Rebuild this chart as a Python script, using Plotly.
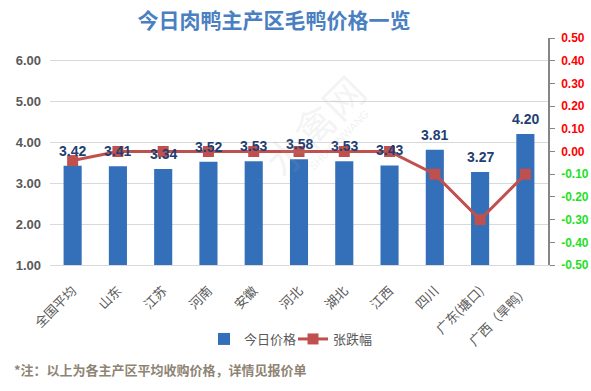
import plotly.graph_objects as go

categories = ["全国平均", "山东", "江苏", "河南", "安徽", "河北", "湖北", "江西", "四川", "广东(塘口)", "广西（旱鸭）"]
prices = [3.42, 3.41, 3.34, 3.52, 3.53, 3.58, 3.53, 3.43, 3.81, 3.27, 4.20]
changes = [-0.04, 0.00, 0.00, 0.00, 0.00, 0.00, 0.00, 0.00, -0.10, -0.30, -0.10]

left_ticks = [1, 2, 3, 4, 5, 6]
left_ticktext = ["1.00", "2.00", "3.00", "4.00", "5.00", "6.00"]
right_ticks = [-0.5, -0.4, -0.3, -0.2, -0.1, 0.0, 0.1, 0.2, 0.3, 0.4, 0.5]

def rlabel(v):
    col = "#ff0000" if v >= -1e-9 else "#1fe01f"
    s = "%.2f" % v
    if s == "-0.00":
        s = "0.00"
    return "<span style='color:%s'><b>%s</b></span>" % (col, s)

right_ticktext = [rlabel(v) for v in right_ticks]

FONT = "Noto Sans CJK SC"
PLOT_LEFT, PLOT_RIGHT = 50, 548
PLOT_TOP, PLOT_BOTTOM = 38, 265
PH = PLOT_BOTTOM - PLOT_TOP
PW = PLOT_RIGHT - PLOT_LEFT

def py2paper(py):
    return (PLOT_BOTTOM - py) / PH

def px2paper(px):
    return (px - PLOT_LEFT) / PW

fig = go.Figure()
fig.add_trace(go.Bar(
    x=categories, y=prices, name="今日价格",
    marker=dict(color="#3470b9", line=dict(width=0)),
    width=0.4,
    yaxis="y",
    legend="legend",
))
fig.add_trace(go.Scatter(
    x=categories, y=changes, name="张跌幅",
    mode="lines+markers",
    line=dict(color="#c0504d", width=3),
    marker=dict(symbol="square", size=11, color="#c0504d"),
    yaxis="y2",
    cliponaxis=False,
    legend="legend2",
))

# value labels above bars
for c, p in zip(categories, prices):
    fig.add_annotation(x=c, y=p, xref="x", yref="y", text="<b>%.2f</b>" % p,
                       showarrow=False, yshift=15, yanchor="middle",
                       font=dict(family="Liberation Sans", size=14, color="#1f3f73"))

# watermark
fig.add_annotation(text="水禽网", x=0.53, y=py2paper(125), xref="paper", yref="paper",
                   showarrow=False, textangle=-45,
                   font=dict(family=FONT, size=40, color="rgba(170,170,170,0.14)"))
fig.add_annotation(text="SHUIQINWANG", x=0.58, y=py2paper(140), xref="paper", yref="paper",
                   showarrow=False, textangle=-45,
                   font=dict(family="Liberation Sans", size=11, color="rgba(170,170,170,0.18)"))

legend_font = dict(family=FONT, size=13, color="#595959")

fig.update_layout(
    width=591, height=391,
    margin=dict(l=PLOT_LEFT, r=591 - PLOT_RIGHT, t=PLOT_TOP, b=391 - PLOT_BOTTOM, autoexpand=False),
    paper_bgcolor="white", plot_bgcolor="white",
    font=dict(family=FONT, color="#595959"),
    title=dict(text="<b>今日肉鸭主产区毛鸭价格一览</b>", x=274/591, xanchor="center",
               y=1 - 21/391, yanchor="middle", yref="container",
               font=dict(family=FONT, size=21, color="#4a7fc1")),
    showlegend=True,
    legend=dict(orientation="h", x=px2paper(204), xanchor="left", y=py2paper(339), yanchor="middle",
                font=legend_font, bgcolor="rgba(0,0,0,0)"),
    legend2=dict(orientation="h", x=px2paper(293), xanchor="left", y=py2paper(339), yanchor="middle",
                 font=legend_font, bgcolor="rgba(0,0,0,0)"),
    bargap=0.6,
    xaxis=dict(
        type="category", tickangle=-45, showgrid=False, automargin=False,
        showline=True, linecolor="#d9d9d9", linewidth=1, ticks="",
        tickfont=dict(family=FONT, size=13, color="#595959"),
        ticklabelstandoff=12,
        range=[-0.5, len(categories) - 0.5],
    ),
    yaxis=dict(
        range=[1, 6.54], tickvals=left_ticks, ticktext=["<b>%s</b>" % t for t in left_ticktext],
        automargin=False,
        showgrid=True, gridcolor="#d9d9d9", gridwidth=1,
        showline=False, zeroline=False, ticks="",
        tickfont=dict(family="Liberation Sans", size=13, color="#595959"),
        ticklabelstandoff=8,
    ),
    yaxis2=dict(
        overlaying="y", side="right", range=[-0.5, 0.5], automargin=False,
        tickvals=right_ticks, ticktext=right_ticktext,
        showgrid=False, zeroline=False,
        showline=True, linecolor="#868686", linewidth=1.5,
        ticks="outside", ticklen=5, tickcolor="#868686",
        tickfont=dict(family="Liberation Sans", size=12),
        ticklabelstandoff=4,
    ),
)

fig.add_annotation(text="<b>*注：以上为各主产区平均收购价格，详情见报价单</b>",
                   x=px2paper(12), y=py2paper(369), xref="paper", yref="paper",
                   xanchor="left", yanchor="middle", showarrow=False,
                   font=dict(family=FONT, size=13, color="#8e8474"))

fig.write_html("out.html", config={"displayModeBar": False},
               post_script="document.body.style.margin='0px';")
